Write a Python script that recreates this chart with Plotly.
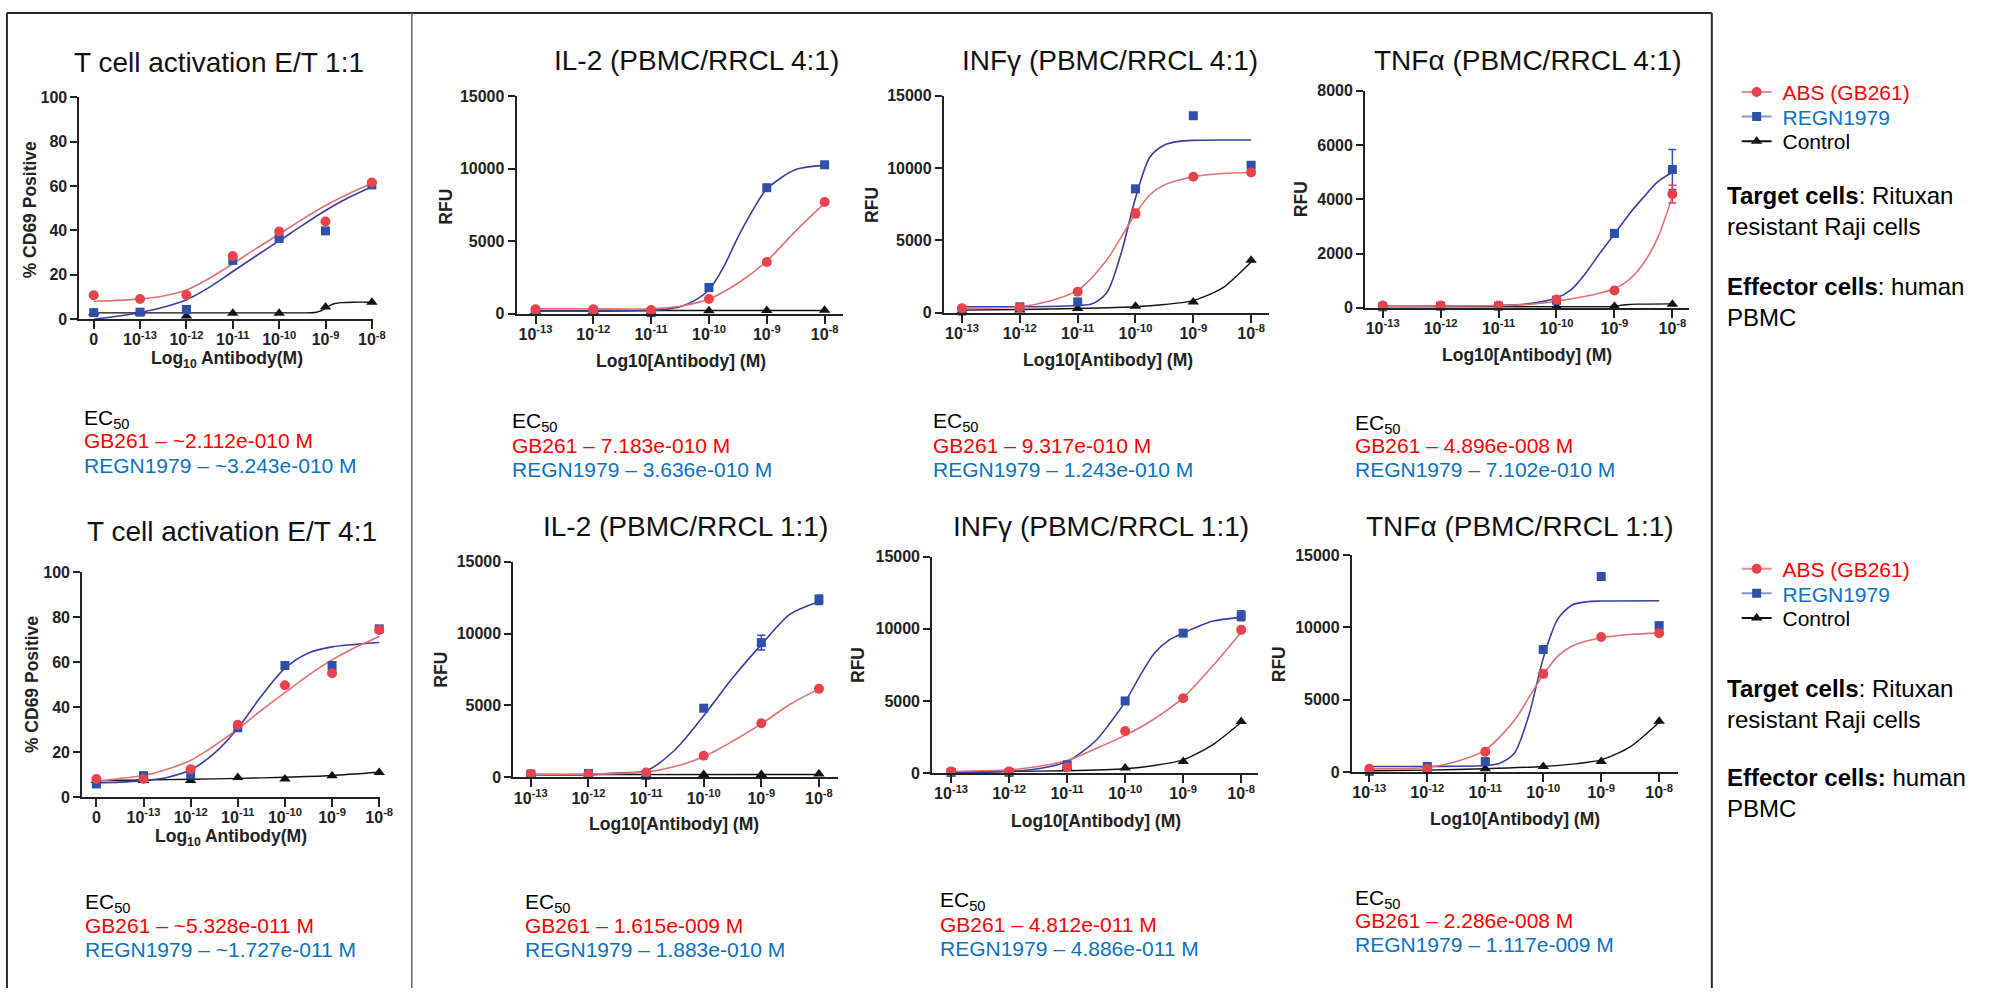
import plotly.graph_objects as go

W, H = 2003, 997

# ----------------------------------------------------------------- data
TCELL_X = [0, 1, 2, 3, 4, 5, 6]
TCELL_TICKTEXT = ["0", "10<sup>-13</sup>", "10<sup>-12</sup>", "10<sup>-11</sup>",
                  "10<sup>-10</sup>", "10<sup>-9</sup>", "10<sup>-8</sup>"]
TCELL_FIT_X = [0, 0.5, 1, 1.5, 2, 2.5, 3, 3.5, 4, 4.5, 5, 5.5, 6]

LOG_X = [-13, -12, -11, -10, -9, -8]
LOG_TICKTEXT = ["10<sup>-13</sup>", "10<sup>-12</sup>", "10<sup>-11</sup>",
                "10<sup>-10</sup>", "10<sup>-9</sup>", "10<sup>-8</sup>"]

# T cell activation E/T 1:1 (% CD69 positive)
T11_GB = [10.8, 9.1, 10.9, 28.5, 39.5, 44.0, 61.6]
T11_REGN = [3.0, 3.2, 4.4, 26.5, 36.4, 39.8, 60.5]
T11_CTRL = [3.0, 3.0, 1.5, 2.7, 2.7, 5.5, 7.7]
T11_GB_FIT = [8.1, 8.5, 9.2, 10.5, 13.2, 18.5, 25.0, 31.8, 38.3, 45.0, 51.2, 56.5, 61.2]
T11_REGN_FIT = [0.0, 1.4, 3.1, 5.4, 8.8, 14.5, 21.5, 28.5, 35.3, 42.3, 49.0, 54.8, 59.7]
T11_CTRL_FIT_X = [0, 1, 2, 3, 4, 4.6, 4.8, 4.9, 5.0, 5.1, 5.2, 5.35, 5.6, 6]
T11_CTRL_FIT = [2.9, 2.9, 2.9, 2.9, 2.9, 2.9, 3.2, 3.8, 5.0, 6.3, 7.1, 7.5, 7.7, 7.7]

# T cell activation E/T 4:1
T41_GB = [8.0, 8.0, 12.4, 32.1, 49.7, 55.1, 74.3]
T41_REGN = [5.8, 9.5, 9.9, 30.8, 58.5, 58.5, 74.8]
T41_CTRL = [7.4, 7.3, 7.3, 8.7, 8.0, 9.5, 10.9]
T41_GB_FIT = [7.0, 8.2, 9.6, 12.4, 16.3, 22.8, 30.3, 38.6, 46.4, 54.2, 61.0, 66.6, 71.4]
T41_REGN_FIT = [6.3, 6.6, 7.3, 8.7, 12.1, 19.4, 30.6, 44.9, 57.3, 64.1, 66.8, 67.9, 68.7]
T41_CTRL_FIT = [7.3, 7.6, 7.9, 8.3, 8.8, 9.6, 11.0]

# IL-2 (PBMC/RRCL 4:1)
IL2A_GB = [300, 300, 250, 1017, 3571, 7707]
IL2A_REGN = [180, 180, 70, 1810, 8700, 10283]
IL2A_CTRL = [150, 150, 120, 200, 220, 230]
IL2A_GB_FIT_X = [-13, -12, -11, -10.5, -10, -9.5, -9, -8.5, -8]
IL2A_GB_FIT = [340, 340, 340, 520, 1017, 2100, 3640, 5720, 7640]
IL2A_REGN_FIT_X = [-13, -12, -11, -10.75, -10.5, -10.25, -10, -9.75, -9.5, -9.25, -9, -8.5, -8]
IL2A_REGN_FIT = [180, 180, 230, 300, 475, 900, 1650, 3200, 5270, 7100, 8610, 9950, 10240]
IL2A_CTRL_FIT_X = [-13, -8]
IL2A_CTRL_FIT = [220, 220]

# INFγ (PBMC/RRCL 4:1)
IFNA_GB = [317, 362, 1450, 6866, 9404, 9699]
IFNA_GB_ERR = [0, 0, 0, 280, 0, 0]
IFNA_REGN = [113, 408, 748, 8566, 13619, 10197]
IFNA_CTRL = [100, 181, 295, 453, 748, 3626]
IFNA_GB_FIT_X = [-13, -12, -11.5, -11, -10.5, -10.25, -10, -9.75, -9.5, -9, -8.5, -8]
IFNA_GB_FIT = [317, 408, 793, 1540, 3626, 5212, 6843, 8158, 8838, 9404, 9630, 9699]
IFNA_REGN_FIT_X = [-13, -12, -11.5, -11, -10.75, -10.5, -10.25, -10, -9.75, -9.5, -9.25, -9, -8.5, -8]
IFNA_REGN_FIT = [408, 408, 430, 498, 612, 1360, 4079, 7931, 10763, 11601, 11850, 11918, 11941, 11941]
IFNA_CTRL_FIT_X = [-13, -12, -11, -10, -9.5, -9, -8.5, -8]
IFNA_CTRL_FIT = [181, 227, 295, 408, 567, 838, 1700, 3512]

# TNFα (PBMC/RRCL 4:1)
TNFA_GB = [85, 85, 85, 302, 640, 4193]
TNFA_GB_ERR = [0, 0, 0, 0, 0, 330]
TNFA_REGN = [36, 60, 60, 278, 2743, 5100]
TNFA_REGN_ERR = [0, 0, 0, 0, 0, 740]
TNFA_CTRL = [30, 30, 30, 40, 60, 130]
TNFA_GB_FIT_X = [-13, -11, -10.5, -10, -9.5, -9.25, -9, -8.75, -8.5, -8.25, -8]
TNFA_GB_FIT = [60, 85, 120, 242, 423, 544, 701, 1027, 1631, 2598, 4109]
TNFA_REGN_FIT_X = [-13, -11, -10.5, -10, -9.75, -9.5, -9.25, -9, -8.75, -8.5, -8.25, -8]
TNFA_REGN_FIT = [60, 85, 145, 362, 665, 1269, 2018, 2719, 3444, 4072, 4650, 5000]
TNFA_CTRL_FIT_X = [-13, -9.2, -9, -8.9, -8.8, -8.6, -8]
TNFA_CTRL_FIT = [36, 36, 50, 90, 115, 135, 145]

# IL-2 (PBMC/RRCL 1:1)
IL2B_GB = [228, 228, 342, 1505, 3762, 6155]
IL2B_REGN = [228, 274, 137, 4810, 9370, 12357]
IL2B_REGN_ERR = [0, 0, 0, 0, 510, 330]
IL2B_CTRL = [150, 150, 150, 200, 200, 230]
IL2B_GB_FIT_X = [-13, -12, -11, -10.5, -10, -9.5, -9, -8.5, -8]
IL2B_GB_FIT = [228, 228, 365, 752, 1436, 2508, 3716, 5084, 6156]
IL2B_REGN_FIT_X = [-13, -12, -11.5, -11, -10.5, -10, -9.5, -9, -8.5, -8]
IL2B_REGN_FIT = [182, 182, 296, 456, 1900, 4286, 6908, 9234, 11354, 12220]
IL2B_CTRL_FIT_X = [-13, -8]
IL2B_CTRL_FIT = [190, 200]

# INFγ (PBMC/RRCL 1:1)
IFNB_GB = [114, 114, 409, 2909, 5182, 9932]
IFNB_REGN = [45, 45, 568, 5000, 9705, 10909]
IFNB_REGN_ERR = [0, 0, 0, 0, 0, 340]
IFNB_CTRL = [60, 80, 341, 341, 795, 3568]
IFNB_GB_FIT_X = [-13, -12, -11.5, -11, -10.5, -10, -9.5, -9, -8.5, -8]
IFNB_GB_FIT = [114, 227, 455, 864, 1705, 2614, 3750, 5228, 7387, 9773]
IFNB_REGN_FIT_X = [-13, -12, -11.5, -11, -10.5, -10.25, -10, -9.75, -9.5, -9.25, -9, -8.5, -8]
IFNB_REGN_FIT = [45, 114, 295, 795, 2273, 3523, 4932, 6705, 8296, 9205, 9705, 10523, 10796]
IFNB_CTRL_FIT_X = [-13, -12, -11, -10, -9.5, -9, -8.5, -8]
IFNB_CTRL_FIT = [68, 114, 159, 295, 523, 909, 1932, 3523]

# TNFα (PBMC/RRCL 1:1)
TNFB_GB = [227, 227, 1405, 6798, 9336, 9608]
TNFB_GB_ERR = [0, 0, 0, 250, 0, 0]
TNFB_REGN = [45, 385, 725, 8475, 13527, 10129]
TNFB_CTRL = [60, 91, 227, 385, 725, 3512]
TNFB_GB_FIT_X = [-13, -12, -11.5, -11, -10.5, -10.25, -10, -9.75, -9.5, -9, -8.5, -8]
TNFB_GB_FIT = [227, 317, 725, 1518, 3558, 5144, 6730, 8021, 8724, 9291, 9517, 9608]
TNFB_REGN_FIT_X = [-13, -12, -11, -10.75, -10.5, -10.25, -10, -9.75, -9.5, -9.25, -9, -8]
TNFB_REGN_FIT = [385, 385, 453, 612, 1292, 3897, 7863, 10582, 11556, 11783, 11829, 11851]
TNFB_CTRL_FIT_X = [-13, -12, -11, -10, -9.5, -9, -8.5, -8]
TNFB_CTRL_FIT = [91, 136, 227, 385, 544, 838, 1745, 3444]

TITLES = ["T cell activation E/T 1:1", "IL-2 (PBMC/RRCL 4:1)", "INFγ (PBMC/RRCL 4:1)",
          "TNFα (PBMC/RRCL 4:1)", "T cell activation E/T 4:1", "IL-2 (PBMC/RRCL 1:1)",
          "INFγ (PBMC/RRCL 1:1)", "TNFα (PBMC/RRCL 1:1)"]
EC50_GB = ["GB261 – ~2.112e-010 M", "GB261 – 7.183e-010 M", "GB261 – 9.317e-010 M",
           "GB261 – 4.896e-008 M", "GB261 – ~5.328e-011 M", "GB261 – 1.615e-009 M",
           "GB261 – 4.812e-011 M", "GB261 – 2.286e-008 M"]
EC50_REGN = ["REGN1979 – ~3.243e-010 M", "REGN1979 – 3.636e-010 M", "REGN1979 – 1.243e-010 M",
             "REGN1979 – 7.102e-010 M", "REGN1979 – ~1.727e-011 M", "REGN1979 – 1.883e-010 M",
             "REGN1979 – 4.886e-011 M", "REGN1979 – 1.117e-009 M"]
SERIES_NAMES = ["ABS (GB261)", "REGN1979", "Control"]

# ----------------------------------------------------------------- style
FONT = "Arial, Liberation Sans, sans-serif"
RED_M, RED_L = "#E8434C", "#E27072"
BLUE_M, BLUE_L = "#2E50AA", "#3B3E9E"
BLACK = "#111111"
TXT_RED, TXT_BLUE = "#FF0000", "#0A72C4"
AXC = "#222222"

zeros = [0] * 6
PANELS = [
    dict(kind="t", gb=T11_GB, regn=T11_REGN, ctrl=T11_CTRL,
         gbf=(TCELL_FIT_X, T11_GB_FIT), regnf=(TCELL_FIT_X, T11_REGN_FIT),
         ctrlf=(T11_CTRL_FIT_X, T11_CTRL_FIT), gbe=None, regne=None),
    dict(kind="r", gb=IL2A_GB, regn=IL2A_REGN, ctrl=IL2A_CTRL,
         gbf=(IL2A_GB_FIT_X, IL2A_GB_FIT), regnf=(IL2A_REGN_FIT_X, IL2A_REGN_FIT),
         ctrlf=(IL2A_CTRL_FIT_X, IL2A_CTRL_FIT), gbe=None, regne=None),
    dict(kind="r", gb=IFNA_GB, regn=IFNA_REGN, ctrl=IFNA_CTRL,
         gbf=(IFNA_GB_FIT_X, IFNA_GB_FIT), regnf=(IFNA_REGN_FIT_X, IFNA_REGN_FIT),
         ctrlf=(IFNA_CTRL_FIT_X, IFNA_CTRL_FIT), gbe=IFNA_GB_ERR, regne=None),
    dict(kind="r", gb=TNFA_GB, regn=TNFA_REGN, ctrl=TNFA_CTRL,
         gbf=(TNFA_GB_FIT_X, TNFA_GB_FIT), regnf=(TNFA_REGN_FIT_X, TNFA_REGN_FIT),
         ctrlf=(TNFA_CTRL_FIT_X, TNFA_CTRL_FIT), gbe=TNFA_GB_ERR, regne=TNFA_REGN_ERR),
    dict(kind="t", gb=T41_GB, regn=T41_REGN, ctrl=T41_CTRL,
         gbf=(TCELL_FIT_X, T41_GB_FIT), regnf=(TCELL_FIT_X, T41_REGN_FIT),
         ctrlf=(TCELL_X, T41_CTRL_FIT), gbe=None, regne=None),
    dict(kind="r", gb=IL2B_GB, regn=IL2B_REGN, ctrl=IL2B_CTRL,
         gbf=(IL2B_GB_FIT_X, IL2B_GB_FIT), regnf=(IL2B_REGN_FIT_X, IL2B_REGN_FIT),
         ctrlf=(IL2B_CTRL_FIT_X, IL2B_CTRL_FIT), gbe=None, regne=IL2B_REGN_ERR),
    dict(kind="r", gb=IFNB_GB, regn=IFNB_REGN, ctrl=IFNB_CTRL,
         gbf=(IFNB_GB_FIT_X, IFNB_GB_FIT), regnf=(IFNB_REGN_FIT_X, IFNB_REGN_FIT),
         ctrlf=(IFNB_CTRL_FIT_X, IFNB_CTRL_FIT), gbe=None, regne=IFNB_REGN_ERR),
    dict(kind="r", gb=TNFB_GB, regn=TNFB_REGN, ctrl=TNFB_CTRL,
         gbf=(TNFB_GB_FIT_X, TNFB_GB_FIT), regnf=(TNFB_REGN_FIT_X, TNFB_REGN_FIT),
         ctrlf=(TNFB_CTRL_FIT_X, TNFB_CTRL_FIT), gbe=TNFB_GB_ERR, regne=None),
]

# pixel geometry: axis left/right, first/last tick px, y top/bottom px, y max, y step
GEOM = [
    (80.0, 375.0, 94.3, 374.3, 90.7, 316.7, 100, 20),
    (520.0, 848.3, 539.0, 830.0, 90.0, 311.0, 15000, 5000),
    (950.0, 1277.3, 968.3, 1259.3, 89.3, 310.0, 15000, 5000),
    (1374.0, 1700.0, 1391.7, 1683.3, 84.3, 305.0, 8000, 2000),
    (82.7, 382.7, 97.0, 381.7, 574.0, 802.7, 100, 20),
    (516.7, 843.3, 534.3, 824.3, 563.3, 782.7, 15000, 5000),
    (938.3, 1266.7, 957.3, 1249.3, 558.3, 778.3, 15000, 5000),
    (1360.7, 1689.3, 1378.3, 1670.0, 556.7, 777.3, 15000, 5000),
]
TITLE_POS = [(220, 55), (701, 53), (1117, 53), (1538, 53),
             (234, 533), (690, 527), (1108, 527), (1530, 527)]
XT_POS = [(228, 358), (685, 359), (1115, 358), (1537, 353),
          (233, 844), (678, 830), (1103, 827), (1525, 825)]
YT_POS = [(30, 205), (448, 202), (877, 200), (1309, 195),
          (32, 688), (443, 673), (863, 668), (1287, 668)]
EC_POS = [(83, 415, 440, 465), (513, 418, 445, 470), (937, 418, 445, 470),
          (1362, 420, 445, 470), (84, 908, 933, 958), (526, 908, 933, 958),
          (944, 905, 932, 957), (1362, 903, 928, 953)]


def px(x):
    return x / W


def py(y):
    return 1 - y / H


fig = go.Figure()
layout = dict(width=W, height=H, margin=dict(l=0, r=0, t=0, b=0), autosize=False,
              paper_bgcolor="white", plot_bgcolor="rgba(0,0,0,0)", hovermode=False,
              showlegend=True)
annotations = []

for k, (p, g) in enumerate(zip(PANELS, GEOM), start=1):
    xa = "x" if k == 1 else f"x{k}"
    ya = "y" if k == 1 else f"y{k}"
    axl, axr, tf, tl, ytop, ybot, ymax, dt = g
    if p["kind"] == "t":
        xs, ttext, vf, vl = TCELL_X, TCELL_TICKTEXT, 0, 6
    else:
        xs, ttext, vf, vl = LOG_X, LOG_TICKTEXT, -13, -8
    scale = (tl - tf) / (vl - vf)
    rmin = vf - (tf - axl) / scale
    rmax = vl + (axr - tl) / scale

    common = dict(xaxis=xa, yaxis=ya, showlegend=False, cliponaxis=False, hoverinfo="skip")
    # fitted curves
    fig.add_trace(go.Scatter(x=p["ctrlf"][0], y=p["ctrlf"][1], mode="lines",
                             line=dict(color=BLACK, width=1.4, shape="spline", smoothing=0.7), **common))
    fig.add_trace(go.Scatter(x=p["regnf"][0], y=p["regnf"][1], mode="lines",
                             line=dict(color=BLUE_L, width=1.6, shape="spline", smoothing=0.8), **common))
    fig.add_trace(go.Scatter(x=p["gbf"][0], y=p["gbf"][1], mode="lines",
                             line=dict(color=RED_L, width=1.6, shape="spline", smoothing=0.8), **common))
    # markers
    fig.add_trace(go.Scatter(x=xs, y=p["ctrl"], mode="markers",
                             marker=dict(symbol="triangle-up", size=10, color=BLACK), **common))
    fig.add_trace(go.Scatter(x=xs, y=p["regn"], mode="markers",
                             marker=dict(symbol="square", size=9, color=BLUE_M),
                             error_y=dict(type="data", array=p["regne"] or zeros, visible=p["regne"] is not None,
                                          color=BLUE_M, thickness=1.5, width=4), **common))
    fig.add_trace(go.Scatter(x=xs, y=p["gb"], mode="markers",
                             marker=dict(symbol="circle", size=10, color=RED_M),
                             error_y=dict(type="data", array=p["gbe"] or zeros, visible=p["gbe"] is not None,
                                          color=RED_M, thickness=1.5, width=4), **common))

    tickfont = dict(family=FONT, size=16, color=AXC, weight="bold")
    layout["xaxis" if k == 1 else f"xaxis{k}"] = dict(
        domain=[px(axl), px(axr)], range=[rmin, rmax], anchor=ya,
        tickmode="array", tickvals=xs, ticktext=ttext, tickfont=tickfont,
        showline=True, linecolor=AXC, linewidth=2, ticks="outside", ticklen=8,
        tickwidth=2, tickcolor=AXC, showgrid=False, zeroline=False, fixedrange=True,
        ticklabelstandoff=-3)
    layout["yaxis" if k == 1 else f"yaxis{k}"] = dict(
        domain=[py(ybot), py(ytop)], range=[0, ymax], anchor=xa,
        tickmode="linear", tick0=0, dtick=dt, tickformat="d", tickfont=tickfont,
        showline=True, linecolor=AXC, linewidth=2, ticks="outside", ticklen=7,
        tickwidth=2, tickcolor=AXC, showgrid=False, zeroline=False, fixedrange=True)

    # titles and labels
    tx, ty = TITLE_POS[k - 1]
    annotations.append(dict(text=TITLES[k - 1], x=px(tx), y=py(ty), xref="paper", yref="paper",
                            xanchor="center", yanchor="middle", showarrow=False,
                            font=dict(family=FONT, size=28, color="#111")))
    xx, xy = XT_POS[k - 1]
    xtitle = "Log<sub>10</sub> Antibody(M)" if p["kind"] == "t" else "Log10[Antibody] (M)"
    annotations.append(dict(text=xtitle, x=px(xx), y=py(xy), xref="paper", yref="paper",
                            xanchor="center", yanchor="middle", showarrow=False,
                            font=dict(family=FONT, size=17.5, color=AXC, weight="bold")))
    yx, yy = YT_POS[k - 1]
    ytitle = "% CD69 Positive" if p["kind"] == "t" else "RFU"
    annotations.append(dict(text=ytitle, x=px(yx), y=py(yy), xref="paper", yref="paper",
                            xanchor="center", yanchor="middle", showarrow=False, textangle=-90,
                            font=dict(family=FONT, size=17.5, color=AXC, weight="bold")))
    ex, e1, e2, e3 = EC_POS[k - 1]
    for txt, yy_, col in (("EC<sub>50</sub>", e1 + 3, "#000"), (EC50_GB[k - 1], e2, TXT_RED),
                          (EC50_REGN[k - 1], e3, TXT_BLUE)):
        annotations.append(dict(text=txt, x=px(ex), y=py(yy_), xref="paper", yref="paper",
                                xanchor="left", yanchor="middle", showarrow=False,
                                font=dict(family=FONT, size=21, color=col)))

# legends: one legend box per entry so the rows sit at the reference spacing
LEG_STYLE = [
    (SERIES_NAMES[0], TXT_RED, dict(symbol="circle", size=10, color=RED_M), "#F08A8C"),
    (SERIES_NAMES[1], TXT_BLUE, dict(symbol="square", size=9, color=BLUE_M), "#8C96D6"),
    (SERIES_NAMES[2], "#000", dict(symbol="triangle-up", size=10, color=BLACK), BLACK),
]
LEG_ROWS = [(65, 90, 115), (550, 575, 600)]
leg_i = 0
for rows in LEG_ROWS:
    for (name, tcol, mk, lcol), ytop in zip(LEG_STYLE, rows):
        leg_i += 1
        lname = "legend" if leg_i == 1 else f"legend{leg_i}"
        fig.add_trace(go.Scatter(x=[None], y=[None], mode="lines+markers",
                                 name=f'<span style="color:{tcol}">&nbsp;{name}</span>',
                                 marker=mk, line=dict(color=lcol, width=2),
                                 legend=lname, showlegend=True, hoverinfo="skip"))
        layout[lname] = dict(x=px(1748), y=py(ytop), xanchor="left", yanchor="top",
                             font=dict(family=FONT, size=21, color="#000"), itemwidth=30,
                             bgcolor="rgba(0,0,0,0)", borderwidth=0, tracegroupgap=0,
                             itemclick=False, itemdoubleclick=False)

# side notes
NOTES = [
    ("<b>Target cells</b>: Rituxan<br>resistant Raji cells", 1736, 175),
    ("<b>Effector cells</b>: human<br>PBMC", 1736, 268),
    ("<b>Target cells</b>: Rituxan<br>resistant Raji cells", 1736, 677),
    ("<b>Effector cells:</b> human<br>PBMC", 1736, 767),
]
for txt, nx, ny in NOTES:
    annotations.append(dict(text=txt, x=px(nx), y=py(ny), xref="paper", yref="paper",
                            xanchor="left", yanchor="top", align="left", showarrow=False,
                            font=dict(family=FONT, size=24, color="#000")))

layout["annotations"] = annotations
line_k = dict(color="#2a2a2a", width=2)
layout["shapes"] = [
    dict(type="line", xref="paper", yref="paper", x0=px(7), x1=px(1723), y0=py(5), y1=py(5), line=line_k),
    dict(type="line", xref="paper", yref="paper", x0=px(7), x1=px(7), y0=py(5), y1=py(997), line=line_k),
    dict(type="line", xref="paper", yref="paper", x0=px(414.5), x1=px(414.5), y0=py(5), y1=py(997),
         line=dict(color="#666666", width=1.5)),
    dict(type="line", xref="paper", yref="paper", x0=px(1723), x1=px(1723), y0=py(5), y1=py(997), line=line_k),
]
fig.update_layout(**layout)
fig.write_html("out.html", config={"displayModeBar": False})
